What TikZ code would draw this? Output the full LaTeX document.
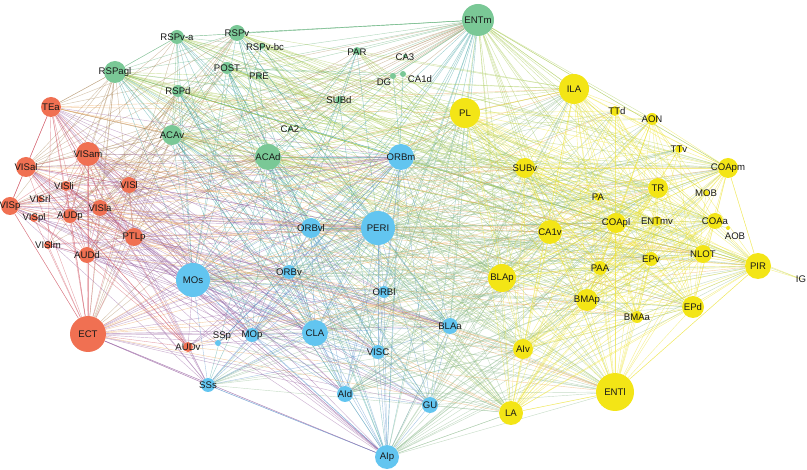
\documentclass[tikz,border=0pt]{standalone}
\usepackage{fontspec}
\setmainfont{Liberation Sans}
\usetikzlibrary{backgrounds}
\definecolor{cG}{RGB}{122,200,150}
\definecolor{cB}{RGB}{98,197,240}
\definecolor{cR}{RGB}{240,112,82}
\definecolor{cY}{RGB}{243,229,22}
\definecolor{eRR}{RGB}{205,75,90}
\definecolor{eRB}{RGB}{150,95,160}
\definecolor{eRG}{RGB}{170,135,90}
\definecolor{eRY}{RGB}{235,160,80}
\definecolor{eGG}{RGB}{95,175,120}
\definecolor{eGB}{RGB}{60,160,160}
\definecolor{eGY}{RGB}{165,200,80}
\definecolor{eBB}{RGB}{80,140,200}
\definecolor{eBY}{RGB}{140,185,140}
\definecolor{eYY}{RGB}{235,225,40}
\colorlet{eBR}{eRB}\colorlet{eGR}{eRG}\colorlet{eYR}{eRY}
\colorlet{eBG}{eGB}\colorlet{eYG}{eGY}\colorlet{eYB}{eBY}
\def\gfRR{1.5}\def\gfRB{1.0}\def\gfBR{1.0}\def\gfRG{0.8}\def\gfGR{0.8}
\def\gfRY{0.3}\def\gfYR{0.3}\def\gfGG{1.3}\def\gfGB{1.0}\def\gfBG{1.0}
\def\gfGY{1.0}\def\gfYG{1.0}\def\gfBB{1.2}\def\gfBY{0.8}\def\gfYB{0.8}
\def\gfYY{1.5}
\newcount\nodecnt
\tikzset{
  vertex/.style={circle, inner sep=0pt, draw=none},
  vlabel/.style={font=\fontsize{9.6}{10}\selectfont, text=black!90, inner sep=0pt},
  link/.style={line width=0.42pt, draw opacity=0.5},
}
\begin{document}
\begin{tikzpicture}[x=1pt,y=-1pt]
\useasboundingbox (0,0) rectangle (807,470);
\global\nodecnt=0
\foreach \nm/\x/\y/\r/\g/\dx/\dy in {
ENTm/478/20/16/G/0/0,
RSPv-a/177/37/7/G/0/0,
RSPv/237/33/8/G/0/0,
RSPv-bc/262/46/3/G/3/1,
RSPagl/115/72/11/G/0/0,
POST/227/68/6/G/0/0,
PRE/259/76/3/G/0/0,
RSPd/178/91/6/G/0/0,
PAR/357/51/4/G/0/1,
CA3/405/56/2/G/0/1,
DG/393/76/3/G/-9/6,
CA1d/403/74/3/G/17/5,
SUBd/339/100/4/G/0/0,
CA2/290/129/2/G/0/0,
ACAv/172/135/10/G/0/0,
ACAd/268/157/13/G/0/0,
ORBm/401/157/13/B/0/0,
PERI/378/228/17/B/0/0,
ORBvl/311/228/10/B/0/0,
ORBv/289/272/7/B/0/0,
ORBl/384/292/6/B/0/0,
MOs/193/280/17/B/0/0,
CLA/315/333/13/B/0/0,
MOp/252/335/7/B/0/0,
SSp/218/343/3/B/4/-7,
SSs/208/385/7/B/0/0,
VISC/378/352/7/B/0/0,
BLAa/450/326/8/B/0/0,
AId/345/394/8/B/0/0,
GU/430/405/8/B/0/0,
AIp/387/457/12/B/0/0,
TEa/51/107/10/R/0/0,
VISam/88/154/12/R/0/0,
VISal/26/167/10/R/0/0,
VISli/66/186/5/R/-2/0,
VISl/129/185/8/R/0/0,
VISp/10/206/9/R/0/0,
VISrl/40/199/3/R/0/0,
AUDp/70/216/7/R/0/0,
VISla/100/208/8/R/0/0,
VISpl/34/218/4/R/0/0,
PTLp/134/237/9/R/0/0,
VISlm/48/245/4/R/0/0,
AUDd/87/255/8/R/0/0,
ECT/88/334/18/R/0/0,
AUDv/188/347/5/R/0/0,
PL/465/113/15/Y/0/0,
ILA/574/89/15/Y/0/0,
TTd/615/111/5/Y/2/0,
AON/652/119/6/Y/0/0,
TTv/679/149/4/Y/0/0,
SUBv/525/168/10/Y/0/0,
COApm/728/168/10/Y/0/0,
TR/658/188/10/Y/0/0,
PA/598/197/4/Y/0/0,
MOB/706/193/3/Y/0/0,
CA1v/550/232/12/Y/0/0,
COApl/616/223/10/Y/0/0,
ENTmv/657/221/5/Y/0/0,
COAa/715/221/8/Y/0/0,
AOB/728/228/2/Y/7/8,
NLOT/703/254/9/Y/0/0,
EPv/651/259/7/Y/0/0,
PIR/758/266/13/Y/0/0,
IG/801/279/0.5/Y/0/0,
BLAp/502/278/14/Y/0/0,
PAA/600/268/7/Y/0/0,
BMAp/587/300/11/Y/0/0,
EPd/693/307/11/Y/0/0,
BMAa/637/317/6/Y/0/0,
AIv/523/349/10/Y/0/0,
LA/511/413/12/Y/0/0,
ENTl/615/392/19/Y/0/0}{
  \global\advance\nodecnt by 1
  \edef\k{\the\nodecnt}
  \node[vertex, fill=c\g, minimum size={2*\r pt}] (n\k) at (\x,\y) {};
  \expandafter\xdef\csname vx\k\endcsname{\x}
  \expandafter\xdef\csname vy\k\endcsname{\y}
  \expandafter\xdef\csname vg\k\endcsname{\g}
  \pgfmathsetmacro\dd{max(1,5*(\r-2))}
  \expandafter\xdef\csname vd\k\endcsname{\dd}
  \expandafter\xdef\csname vn\k\endcsname{\nm}
  \pgfmathsetmacro\lx{\x+\dx}
  \pgfmathsetmacro\ly{\y+\dy}
  \expandafter\xdef\csname vlx\k\endcsname{\lx}
  \expandafter\xdef\csname vly\k\endcsname{\ly}
}
\xdef\N{\the\nodecnt}
\foreach \k in {1,...,\N}{
  \edef\lx{\csname vlx\k\endcsname}\edef\ly{\csname vly\k\endcsname}
  \node[vlabel] (l\k) at (\lx,\ly) {\csname vn\k\endcsname};
}
\begin{pgfonlayer}{background}
\pgfmathsetseed{4242}
\foreach \i in {1,...,\N}{
  \foreach \j in {\i,...,\N}{
    \ifnum\j>\i\relax
      \edef\gi{\csname vg\i\endcsname}\edef\gj{\csname vg\j\endcsname}
      \edef\di{\csname vd\i\endcsname}\edef\dj{\csname vd\j\endcsname}
      \edef\xi{\csname vx\i\endcsname}\edef\xj{\csname vx\j\endcsname}
      \edef\yi{\csname vy\i\endcsname}\edef\yj{\csname vy\j\endcsname}
      \edef\gf{\csname gf\gi\gj\endcsname}
      \pgfmathsetmacro\pp{\di*\dj/1650*\gf*1.4*exp(-veclen(\xi-\xj,\yi-\yj)/600)}
      \pgfmathsetmacro\uu{rnd}
      \ifdim\uu pt<\pp pt
        \draw[link, color=e\gi\gj] (n\i) -- (n\j);
      \fi
    \fi
  }
}
% outline edges and the single IG link
\foreach \a/\b/\c in {64/65/eYY, 2/1/eGG, 3/1/eGG, 1/53/eGY, 1/48/eGY, 53/64/eYY,
  64/73/eYY, 73/72/eYY, 72/31/eBY, 31/26/eBB, 26/45/eRB, 45/37/eRR, 37/34/eRR,
  34/32/eRR, 32/5/eRG, 5/2/eGG, 45/31/eRB}{
  \draw[link, color=\c] (n\a) -- (n\b);
}
\end{pgfonlayer}
\end{tikzpicture}
\end{document}
